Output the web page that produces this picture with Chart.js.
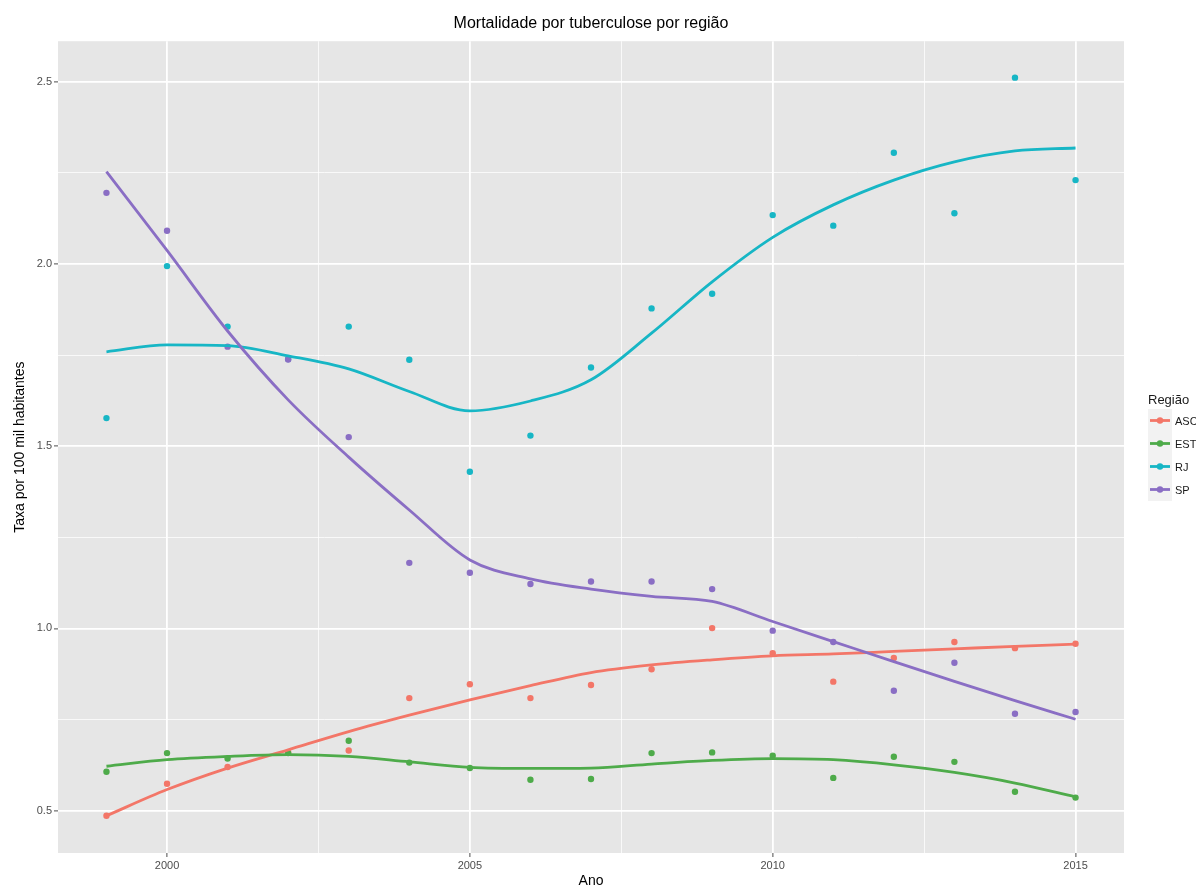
<!DOCTYPE html>
<html lang="pt">
<head>
<meta charset="utf-8">
<title>Mortalidade por tuberculose por região</title>
<script src="https://cdn.jsdelivr.net/npm/chart.js@4.4.1/dist/chart.umd.min.js"></script>
<style>
  html, body { margin: 0; padding: 0; background: #fff; }
  #wrap { position: relative; width: 1196px; height: 888px; overflow: hidden; font-family: "Liberation Sans", Arial, sans-serif; }
  #chart { position: absolute; left: 0; top: 0; }
  #legend { position: absolute; left: 1148px; top: 391px; color: #1a1a1a; }
  #legend .ttl { font-size: 13px; line-height: 18px; height: 18px; white-space: nowrap; }
  #legend .item { height: 23px; display: flex; align-items: center; white-space: nowrap; font-size: 11px; }
  #legend svg { display: block; margin-right: 3px; }
</style>
</head>
<body>
<div id="wrap">
  <canvas id="chart" width="1196" height="888"></canvas>
  <div id="legend"></div>
</div>
<script>
var years = [1999, 2000, 2001, 2002, 2003, 2004, 2005, 2006, 2007, 2008, 2009, 2010, 2011, 2012, 2013, 2014, 2015];

var regions = ['ASC', 'EST', 'RJ', 'SP'];
var regionColors = ['#f37668', '#4eab4a', '#17b6c5', '#8a6ec4'];

// observed rates per region
var ascRate = [0.486, 0.574, 0.620, 0.660, 0.665, 0.809, 0.847, 0.809, 0.845, 0.888, 1.001, 0.932, 0.854, 0.919, 0.963, 0.946, 0.958];
var estRate = [0.607, 0.658, 0.643, 0.658, 0.692, 0.632, 0.617, 0.585, 0.587, 0.658, 0.660, 0.651, 0.590, 0.648, 0.634, 0.552, 0.536];
var rjRate  = [1.577, 1.994, 1.828, 1.739, 1.828, 1.737, 1.430, 1.529, 1.716, 1.878, 1.918, 2.134, 2.105, 2.305, 2.139, 2.511, 2.230];
var spRate  = [2.195, 2.091, 1.773, 1.738, 1.525, 1.180, 1.153, 1.122, 1.129, 1.129, 1.108, 0.994, 0.963, 0.829, 0.906, 0.766, 0.771];

// smoothed trend per region
var ascTrend = [0.486, 0.558, 0.617, 0.667, 0.717, 0.762, 0.804, 0.843, 0.879, 0.900, 0.914, 0.925, 0.930, 0.937, 0.944, 0.951, 0.957];
var estTrend = [0.622, 0.640, 0.649, 0.654, 0.649, 0.634, 0.619, 0.616, 0.617, 0.628, 0.638, 0.643, 0.640, 0.626, 0.605, 0.576, 0.538];
var rjTrend  = [1.759, 1.778, 1.776, 1.748, 1.712, 1.650, 1.597, 1.624, 1.682, 1.810, 1.951, 2.073, 2.162, 2.230, 2.280, 2.310, 2.318];
var spTrend  = [2.253, 2.037, 1.816, 1.627, 1.470, 1.325, 1.188, 1.136, 1.108, 1.088, 1.074, 1.019, 0.964, 0.909, 0.855, 0.802, 0.751];

var xMajor = [2000, 2005, 2010, 2015];
var xMinor = [2002.5, 2007.5, 2012.5];
var yMajor = [0.5, 1.0, 1.5, 2.0, 2.5];
var yMinor = [0.75, 1.25, 1.75, 2.25];

var rates = [ascRate, estRate, rjRate, spRate];
var trends = [ascTrend, estTrend, rjTrend, spTrend];

function pairs(vals) {
    return years.map(function (y, i) { return { x: y, y: vals[i] }; });
}

function isMajor(list, v) {
    return list.some(function (m) { return Math.abs(m - v) < 1e-6; });
}

// points first, trend lines over them (painter order, reversed for Chart.js)
var layers = [];
regions.forEach(function (r, i) {
    layers.push({ label: r + ' pontos', data: pairs(rates[i]), showLine: false,
        pointRadius: 3.2, pointHoverRadius: 3.2, pointBorderWidth: 0,
        pointBackgroundColor: regionColors[i], borderColor: regionColors[i] });
});
regions.forEach(function (r, i) {
    layers.push({ label: r, data: pairs(trends[i]), showLine: true, pointRadius: 0,
        borderColor: regionColors[i], borderWidth: 2.8, cubicInterpolationMode: 'monotone', fill: false });
});

var panelBg = {
    id: 'panelBg',
    beforeDraw: function (chart) {
        var a = chart.chartArea, c = chart.ctx;
        c.save();
        c.fillStyle = '#e6e6e6';
        c.fillRect(a.left, a.top, a.right - a.left, a.bottom - a.top);
        c.restore();
    }
};

function gridOpts(major) {
    return {
        color: function (ctx) { return isMajor(major, ctx.tick.value) ? '#ffffff' : 'rgba(255,255,255,0.85)'; },
        lineWidth: function (ctx) { return isMajor(major, ctx.tick.value) ? 1.8 : 0.9; },
        tickColor: function (ctx) { return isMajor(major, ctx.tick.value) ? '#4d4d4d' : 'rgba(0,0,0,0)'; },
        tickWidth: 1,
        tickLength: 4,
        drawTicks: true
    };
}

var tickFont = { family: '"Liberation Sans", Arial, sans-serif', size: 11 };
var titleFont = { family: '"Liberation Sans", Arial, sans-serif', size: 14 };

new Chart(document.getElementById('chart'), {
    type: 'scatter',
    data: { datasets: layers.slice().reverse() },
    options: {
        responsive: false,
        animation: false,
        events: [],
        layout: { padding: { left: 0, right: 72, top: 0, bottom: 0 } },
        plugins: {
            legend: { display: false },
            tooltip: { enabled: false },
            title: {
                display: true, fullSize: false,
                text: 'Mortalidade por tuberculose por região',
                color: '#000',
                font: { family: '"Liberation Sans", Arial, sans-serif', size: 16, weight: 'normal', lineHeight: 1.2 },
                padding: { top: 14, bottom: 8 }
            }
        },
        scales: {
            x: {
                type: 'linear', min: 1998.2, max: 2015.8,
                afterBuildTicks: function (s) {
                    s.ticks = xMajor.concat(xMinor).sort(function (a, b) { return a - b; })
                        .map(function (v) { return { value: v }; });
                },
                afterFit: function (s) { s.height = 35; },
                ticks: {
                    autoSkip: false, maxRotation: 0, padding: 2, color: '#4d4d4d', font: tickFont,
                    callback: function (v) { return isMajor(xMajor, v) ? String(v) : ''; }
                },
                grid: gridOpts(xMajor),
                border: { display: false },
                title: { display: true, text: 'Ano', color: '#000', font: { family: titleFont.family, size: 14, lineHeight: 1 }, padding: { top: 0, bottom: 0 } }
            },
            y: {
                type: 'linear', min: 0.384, max: 2.611,
                afterBuildTicks: function (s) {
                    s.ticks = yMajor.concat(yMinor).sort(function (a, b) { return a - b; })
                        .map(function (v) { return { value: v }; });
                },
                afterFit: function (s) { s.width = 58; },
                ticks: {
                    autoSkip: false, padding: 2, color: '#4d4d4d', font: tickFont,
                    callback: function (v) { return isMajor(yMajor, v) ? v.toFixed(1) : ''; }
                },
                grid: gridOpts(yMajor),
                border: { display: false },
                title: { display: true, text: 'Taxa por 100 mil habitantes', color: '#000', font: { family: titleFont.family, size: 14, lineHeight: 1.2 }, padding: { top: 12, bottom: 0 } }
            }
        }
    },
    plugins: [panelBg]
});

// legend: line + point keys on a light grey tile
var lg = '<div class="ttl">Região</div>';
regions.forEach(function (r, i) {
    lg += '<div class="item"><svg width="24" height="23">' +
        '<rect x="0" y="0" width="24" height="23" fill="#f2f2f2"/>' +
        '<line x1="2" y1="11.5" x2="22" y2="11.5" stroke="' + regionColors[i] + '" stroke-width="2.8"/>' +
        '<circle cx="12" cy="11.5" r="3.2" fill="' + regionColors[i] + '"/></svg>' +
        '<span>' + r + '</span></div>';
});
document.getElementById('legend').innerHTML = lg;
</script>
</body>
</html>
